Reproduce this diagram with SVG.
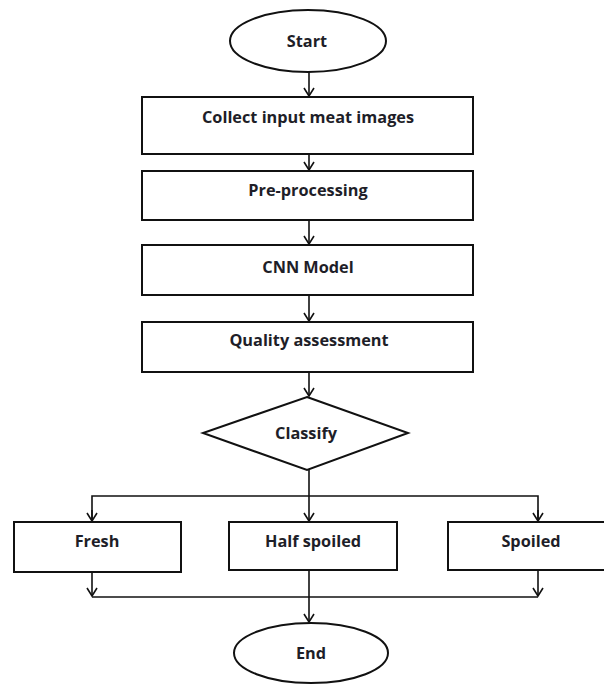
<svg xmlns="http://www.w3.org/2000/svg" width="604" height="684" viewBox="0 0 604 684">
<defs>
<style>
.shape{fill:#fff;stroke:#111;stroke-width:2}
.conn{fill:none;stroke:#111;stroke-width:1.6}
.lbl{font-family:"Open Sans","Liberation Sans",sans-serif;font-weight:700;font-size:16.3px;fill:#1e1e28;text-anchor:middle;dominant-baseline:central}
</style>
<marker id="arr" markerUnits="userSpaceOnUse" markerWidth="14" markerHeight="14" viewBox="0 0 14 14" refX="12" refY="7" orient="auto">
<path d="M4,2 L12,7 L4,12" fill="none" stroke="#111" stroke-width="1.6"/>
</marker>
</defs>
<rect width="604" height="684" fill="#fff"/>
<g id="connectors">
<line class="conn" x1="309" y1="72" x2="309" y2="96" marker-end="url(#arr)"/>
<line class="conn" x1="309" y1="154" x2="309" y2="170" marker-end="url(#arr)"/>
<line class="conn" x1="309" y1="220" x2="309" y2="244" marker-end="url(#arr)"/>
<line class="conn" x1="309" y1="295" x2="309" y2="321" marker-end="url(#arr)"/>
<line class="conn" x1="309" y1="372" x2="309" y2="396" marker-end="url(#arr)"/>
<line class="conn" x1="309" y1="470" x2="309" y2="521" marker-end="url(#arr)"/>
<polyline class="conn" points="92,521 92,496 538,496 538,521" />
<line class="conn" x1="92" y1="510" x2="92" y2="521" marker-end="url(#arr)"/>
<line class="conn" x1="538" y1="510" x2="538" y2="521" marker-end="url(#arr)"/>
<line class="conn" x1="92" y1="572" x2="92" y2="596" marker-end="url(#arr)"/>
<line class="conn" x1="538" y1="570" x2="538" y2="596" marker-end="url(#arr)"/>
<line class="conn" x1="92" y1="597" x2="538" y2="597"/>
<line class="conn" x1="309" y1="570" x2="309" y2="622" marker-end="url(#arr)"/>
</g>
<g id="start">
<ellipse class="shape" cx="308" cy="41" rx="78" ry="31"/>
<text class="lbl" x="307" y="41">Start</text>
</g>
<g id="collect">
<rect class="shape" x="142" y="97" width="331" height="57"/>
<text class="lbl" x="308" y="117">Collect input meat images</text>
</g>
<g id="preprocessing">
<rect class="shape" x="142" y="171" width="331" height="49"/>
<text class="lbl" x="308" y="190">Pre-processing</text>
</g>
<g id="cnn">
<rect class="shape" x="142" y="245" width="331" height="50"/>
<text class="lbl" x="308" y="267">CNN Model</text>
</g>
<g id="quality">
<rect class="shape" x="142" y="322" width="331" height="50"/>
<text class="lbl" x="309" y="340">Quality assessment</text>
</g>
<g id="classify">
<polygon class="shape" points="307,397 408,433 307,470 203,433"/>
<text class="lbl" x="306" y="433">Classify</text>
</g>
<g id="fresh">
<rect class="shape" x="14" y="522" width="167" height="50"/>
<text class="lbl" x="97" y="541">Fresh</text>
</g>
<g id="half">
<rect class="shape" x="229" y="522" width="168" height="48"/>
<text class="lbl" x="313" y="541">Half spoiled</text>
</g>
<g id="spoiled">
<rect class="shape" x="448" y="522" width="170" height="48"/>
<text class="lbl" x="531" y="541">Spoiled</text>
</g>
<g id="end">
<ellipse class="shape" cx="311" cy="653" rx="77" ry="30"/>
<text class="lbl" x="311" y="653">End</text>
</g>
</svg>
